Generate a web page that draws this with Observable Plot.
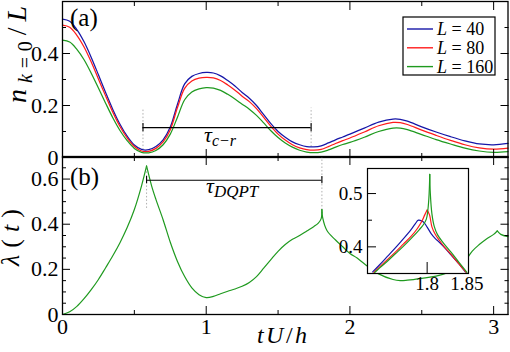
<!DOCTYPE html>
<html><head><meta charset="utf-8">
<script src="https://cdn.jsdelivr.net/npm/d3@7"></script>
<script src="https://cdn.jsdelivr.net/npm/@observablehq/plot@0.6"></script>
<style>
html,body{margin:0;padding:0;background:#fff;}
#wrap{position:relative;width:510px;height:352px;overflow:hidden;background:#fff;}
</style></head><body><div id="wrap"></div>
<script>
// ---------- data ----------
const times = [0,0.05,0.1,0.15,0.2,0.25,0.3,0.35,0.4,0.45,0.5,0.55,0.6,0.65,0.7,0.75,0.8,0.85,0.9,0.95,1.0,1.05,1.1,1.15,1.2,1.25,1.3,1.35,1.4,1.45,1.5,1.55,1.6,1.65,1.7,1.75,1.8,1.85,1.9,1.95,2.0,2.1,2.2,2.3,2.35,2.4,2.5,2.6,2.7,2.8,2.9,3.0,3.1];
const nL40  = [0.532,0.524,0.492,0.445,0.385,0.318,0.25,0.185,0.128,0.082,0.048,0.031,0.03,0.042,0.068,0.117,0.205,0.283,0.312,0.323,0.327,0.325,0.314,0.296,0.275,0.25,0.228,0.2,0.165,0.13,0.1,0.078,0.06,0.049,0.042,0.041,0.045,0.056,0.068,0.079,0.09,0.113,0.136,0.148,0.147,0.14,0.118,0.098,0.08,0.064,0.052,0.049,0.054];
const nL80  = [0.509,0.501,0.47,0.425,0.367,0.302,0.237,0.174,0.119,0.075,0.042,0.025,0.024,0.035,0.06,0.107,0.192,0.266,0.294,0.305,0.308,0.306,0.296,0.279,0.259,0.236,0.215,0.188,0.154,0.12,0.09,0.067,0.049,0.037,0.03,0.028,0.031,0.042,0.054,0.065,0.075,0.098,0.122,0.135,0.134,0.127,0.105,0.085,0.066,0.049,0.037,0.032,0.036];
const nL160 = [0.451,0.444,0.416,0.376,0.324,0.267,0.209,0.153,0.104,0.065,0.035,0.02,0.018,0.027,0.049,0.09,0.155,0.222,0.252,0.264,0.269,0.267,0.258,0.243,0.225,0.205,0.186,0.162,0.133,0.103,0.077,0.056,0.04,0.028,0.021,0.019,0.021,0.029,0.04,0.05,0.058,0.078,0.1,0.113,0.113,0.107,0.088,0.069,0.052,0.036,0.025,0.02,0.023];
const seriesNames = ["40","80","160"];

const lamT = [0,0.05,0.1,0.15,0.2,0.25,0.3,0.35,0.4,0.45,0.5,0.55,0.585,0.62,0.65,0.7,0.75,0.8,0.85,0.9,0.95,1.0,1.05,1.1,1.15,1.2,1.25,1.3,1.35,1.4,1.45,1.5,1.55,1.6,1.65,1.7,1.75,1.78,1.8,1.805,1.81,1.84,1.9,1.95,2.0,2.05,2.1,2.2,2.3,2.35,2.4,2.5,2.6,2.7,2.75,2.8,2.85,2.9,2.95,3.0,3.025,3.05,3.1];
const lamV = [0,0.012,0.036,0.07,0.11,0.155,0.207,0.26,0.318,0.385,0.465,0.57,0.658,0.57,0.51,0.42,0.32,0.235,0.168,0.118,0.088,0.075,0.08,0.092,0.103,0.113,0.125,0.142,0.168,0.205,0.243,0.28,0.31,0.333,0.35,0.37,0.39,0.405,0.425,0.465,0.43,0.372,0.33,0.3,0.27,0.25,0.225,0.18,0.155,0.15,0.152,0.16,0.17,0.19,0.205,0.235,0.28,0.31,0.335,0.355,0.37,0.355,0.345];
const lamCusps = [0.585,1.805,3.025];

const inT40  = [1.7315,1.74,1.75,1.76,1.77,1.78,1.785,1.789,1.795,1.8,1.805,1.81,1.815,1.821,1.83,1.84,1.848];
const inV40  = [0.353,0.366,0.382,0.398,0.415,0.433,0.443,0.45,0.447,0.437,0.425,0.416,0.409,0.4,0.385,0.368,0.353];
const inT80  = [1.733,1.74,1.75,1.76,1.77,1.78,1.7875,1.793,1.797,1.8,1.803,1.806,1.81,1.815,1.821,1.83,1.84,1.849];
const inV80  = [0.352,0.362,0.376,0.39,0.405,0.42,0.434,0.447,0.46,0.469,0.46,0.4375,0.424,0.413,0.401,0.386,0.368,0.352];
const inT160 = [1.734,1.74,1.75,1.76,1.77,1.78,1.79,1.795,1.799,1.801,1.8025,1.8033,1.804,1.806,1.809,1.813,1.82,1.83,1.84,1.85];
const inV160 = [0.352,0.36,0.373,0.387,0.401,0.416,0.432,0.441,0.452,0.47,0.5,0.536,0.5,0.462,0.438,0.423,0.408,0.39,0.371,0.352];
const inCusp80 = 1.8, inCusp160 = 1.8033;

const tauCR = [0.56, 1.73], tauCRLevel = 0.115;
const tauDQPT = [0.585, 1.805], tauDQPTLevel = 0.595;
const topGuideT = [0.56, 1.73], topGuideLo = [0.015, 0.04], topGuideHi = [0.19, 0.19];
const botGuideT = [0.585, 1.805], botGuideLo = [0.47, 0.43], botGuideHi = [0.65, 0.7];

const xMajor = [0,1,2,3], xMinor = [0.5,1.5,2.5];
const topYMajor = [0,0.2,0.4], topYMinor = [0.1,0.3,0.5];
const botYMajor = [0,0.2,0.4,0.6], botYMinor = [0.05,0.1,0.15,0.25,0.3,0.35,0.45,0.5,0.55,0.65];
const inXMajor = [1.8,1.85], inXTicks = [1.8];
const inYMajor = [0.4,0.5], inYMinor = [0.45];

// ---------- styles ----------
const FONT = "Liberation Serif";
const colors = ["#1616a8", "#ff1c1c", "#1f9a1f"];
const fmt = d => String(d);
const wrap = document.getElementById("wrap");

function tickMarks(xMaj, xMin, yMaj, yMin, L = {xa:8, xi:4, ya:8, yi:4}) {
  const m = [];
  for (const a of ["top","bottom"]) {
    if (xMaj.length) m.push(Plot.axisX(xMaj, {anchor:a, tickSize:-L.xa, fill:"none", label:null, strokeWidth:1}));
    if (xMin.length) m.push(Plot.axisX(xMin, {anchor:a, tickSize:-L.xi, fill:"none", label:null, strokeWidth:1}));
  }
  for (const a of ["left","right"]) {
    if (yMaj.length) m.push(Plot.axisY(yMaj, {anchor:a, tickSize:-L.ya, fill:"none", label:null, strokeWidth:1}));
    if (yMin.length) m.push(Plot.axisY(yMin, {anchor:a, tickSize:-L.yi, fill:"none", label:null, strokeWidth:1}));
  }
  return m;
}
function split(T, V, cusps) {
  const rows = []; let seg = 0;
  T.forEach((t, i) => {
    rows.push({t, v: V[i], seg});
    if (cusps.includes(t)) { seg++; rows.push({t, v: V[i], seg}); }
  });
  return rows;
}
function place(el, left, top) {
  el.style.position = "absolute"; el.style.left = left + "px"; el.style.top = top + "px";
  wrap.appendChild(el);
}
const baseStyle = {fontFamily: FONT, background: "transparent", color: "black", overflow: "visible"};

// ---------- top panel ----------
const seriesVals = [nL40, nL80, nL160];
const topLines = seriesVals.map((vals, k) =>
  Plot.line(times.map((t, i) => ({t, v: vals[i]})), {x: "t", y: "v", stroke: colors[k], strokeWidth: 1.25, curve: "catmull-rom"}));
const topGuides = topGuideT.map((t, i) => ({t, y1: topGuideLo[i], y2: topGuideHi[i]}));
const topPlot = Plot.plot({
  width: 510, height: 158, marginLeft: 62, marginRight: 2.5, marginTop: 1, marginBottom: 1,
  x: {domain: [0, 3.1], axis: null}, y: {domain: [0, 0.6], axis: null},
  style: {...baseStyle, fontSize: "21px"},
  marks: [
    Plot.ruleX(topGuides, {x: "t", y1: "y1", y2: "y2", stroke: "#9a9a9a", strokeWidth: 0.8, strokeDasharray: "1.5,2"}),
    ...topLines,
    Plot.ruleY([{a: tauCR[0], b: tauCR[1], v: tauCRLevel}], {x1: "a", x2: "b", y: "v", stroke: "black", strokeWidth: 1.1}),
    Plot.ruleX(tauCR.map(t => ({t, lo: tauCRLevel - 0.016, hi: tauCRLevel + 0.016})), {x: "t", y1: "lo", y2: "hi", stroke: "black", strokeWidth: 1.1}),
    ...tickMarks(xMajor, xMinor, topYMajor, topYMinor),
    Plot.axisY(topYMajor, {anchor: "left", tickSize: 0, tickPadding: 4, label: null, fontSize: 22, fontFamily: FONT, tickFormat: fmt}),
    Plot.frame({stroke: "black", strokeWidth: 1.3})
  ]
});
place(topPlot, 0, 0);

// ---------- bottom panel ----------
const botGuides = botGuideT.map((t, i) => ({t, y1: botGuideLo[i], y2: botGuideHi[i]}));
const botPlot = Plot.plot({
  width: 510, height: 197, marginLeft: 62, marginRight: 2.5, marginTop: 1, marginBottom: 38,
  x: {domain: [0, 3.1], axis: null}, y: {domain: [0, 0.7], axis: null},
  style: {...baseStyle, fontSize: "21px"},
  marks: [
    Plot.ruleX(botGuides, {x: "t", y1: "y1", y2: "y2", stroke: "#9a9a9a", strokeWidth: 0.8, strokeDasharray: "1.5,2"}),
    Plot.line(split(lamT, lamV, lamCusps), {x: "t", y: "v", z: "seg", stroke: colors[2], strokeWidth: 1.2, curve: "catmull-rom"}),
    Plot.ruleY([{a: tauDQPT[0], b: tauDQPT[1], v: tauDQPTLevel}], {x1: "a", x2: "b", y: "v", stroke: "black", strokeWidth: 1.1}),
    Plot.ruleX(tauDQPT.map(t => ({t, lo: tauDQPTLevel - 0.016, hi: tauDQPTLevel + 0.016})), {x: "t", y1: "lo", y2: "hi", stroke: "black", strokeWidth: 1.1}),
    ...tickMarks(xMajor, xMinor, botYMajor, botYMinor, {xa: 8, xi: 4, ya: 8, yi: 4}),
    Plot.axisY(botYMajor, {anchor: "left", tickSize: 0, tickPadding: 4, label: null, fontSize: 22, fontFamily: FONT, tickFormat: fmt}),
    Plot.axisX(xMajor, {anchor: "bottom", tickSize: 0, tickPadding: 4, label: null, fontSize: 22, fontFamily: FONT, tickFormat: fmt}),
    Plot.frame({stroke: "black", strokeWidth: 1.3})
  ]
});
place(botPlot, 0, 155);

// ---------- inset ----------
const inset = Plot.plot({
  width: 146, height: 135, marginLeft: 40, marginRight: 5, marginTop: 5, marginBottom: 25,
  x: {domain: [1.725, 1.852], axis: null}, y: {domain: [0.35, 0.547], axis: null},
  style: {...baseStyle, fontSize: "19px"},
  marks: [
    Plot.frame({fill: "white", stroke: "none"}),
    Plot.line(inT40.map((t, i) => ({t, v: inV40[i]})), {x: "t", y: "v", stroke: colors[0], strokeWidth: 1.2, curve: "catmull-rom", clip: true}),
    Plot.line(split(inT80, inV80, [inCusp80]), {x: "t", y: "v", z: "seg", stroke: colors[1], strokeWidth: 1.2, curve: "catmull-rom", clip: true}),
    Plot.line(split(inT160, inV160, [inCusp160]), {x: "t", y: "v", z: "seg", stroke: colors[2], strokeWidth: 1.2, curve: "catmull-rom", clip: true}),
    Plot.axisX(inXTicks, {anchor: "bottom", tickSize: -11, fill: "none", label: null}),
    Plot.axisY(inYMajor, {anchor: "left", tickSize: -9, fill: "none", label: null}),
    Plot.axisY(inYMinor, {anchor: "left", tickSize: -5, fill: "none", label: null}),
    Plot.axisY(inYMajor, {anchor: "left", tickSize: 0, tickPadding: 5, label: null, fontSize: 19, fontFamily: FONT, tickFormat: fmt}),
    Plot.axisX(inXMajor, {anchor: "bottom", tickSize: 0, tickPadding: 3, label: null, fontSize: 19, fontFamily: FONT, tickFormat: fmt}),
    Plot.frame({stroke: "black", strokeWidth: 1.2})
  ]
});
place(inset, 327, 163);

// ---------- overlay texts & legend ----------
const svg = d3.create("svg").attr("width", 510).attr("height", 352)
  .style("position", "absolute").style("left", "0px").style("top", "0px").style("overflow", "visible");

// panel labels
svg.append("text").attr("x", 70).attr("y", 26).attr("font-size", 25).text("(a)");
svg.append("text").attr("x", 70).attr("y", 185).attr("font-size", 25).text("(b)");

// y title top
const yt = svg.append("text").attr("transform", "translate(26,103) rotate(-90)").attr("font-size", 28)
  .attr("textLength", 97).attr("lengthAdjust", "spacing");
yt.append("tspan").attr("font-style", "italic").text("n");
yt.append("tspan").attr("font-size", 20).attr("dy", 6).attr("font-style", "italic").text("k");
yt.append("tspan").attr("font-size", 20).text("=0");
yt.append("tspan").attr("dy", -6).text("/");
yt.append("tspan").attr("font-style", "italic").text("L");

// y title bottom
const yb = svg.append("text").attr("transform", "translate(19,266) rotate(-90)").attr("font-size", 26)
  .attr("textLength", 57).attr("lengthAdjust", "spacing");
yb.append("tspan").attr("font-style", "italic").text("λ");
yb.append("tspan").text("(");
yb.append("tspan").attr("font-style", "italic").text("t");
yb.append("tspan").text(")");

// x title
const xt = svg.append("text").attr("x", 257).attr("y", 343).attr("font-size", 24)
  .attr("textLength", 50).attr("lengthAdjust", "spacing");
xt.append("tspan").attr("font-style", "italic").text("tU");
xt.append("tspan").text("/");
xt.append("tspan").attr("font-style", "italic").text("h");

// tau labels
const t1 = svg.append("text").attr("x", 204).attr("y", 142).attr("font-size", 22);
t1.append("tspan").attr("font-style", "italic").text("τ");
t1.append("tspan").attr("font-size", 16).attr("dy", 4).attr("font-style", "italic").text("c−r");
const t2 = svg.append("text").attr("x", 206).attr("y", 193).attr("font-size", 22);
t2.append("tspan").attr("font-style", "italic").text("τ");
t2.append("tspan").attr("font-size", 17).attr("dy", 4).attr("font-style", "italic").text("DQPT");

// legend
const lg = svg.append("g");
lg.append("rect").attr("x", 403).attr("y", 17).attr("width", 92).attr("height", 58)
  .attr("fill", "white").attr("stroke", "black").attr("stroke-width", 1.2);
seriesNames.forEach((name, i) => {
  const y = 29 + i * 18.8;
  lg.append("line").attr("x1", 407).attr("x2", 433).attr("y1", y).attr("y2", y)
    .attr("stroke", colors[i]).attr("stroke-width", 1.4);
  const tx = lg.append("text").attr("x", 437).attr("y", y + 6).attr("font-size", 18);
  tx.append("tspan").attr("font-style", "italic").text("L");
  tx.append("tspan").text(" = " + name);
});

wrap.appendChild(svg.node());

// use the serif font on every svg and text element
wrap.querySelectorAll("svg, g, text, tspan").forEach(el => {
  el.setAttribute("font-family", FONT);
  el.style.fontFamily = `"${FONT}"`;
});
</script></body></html>
